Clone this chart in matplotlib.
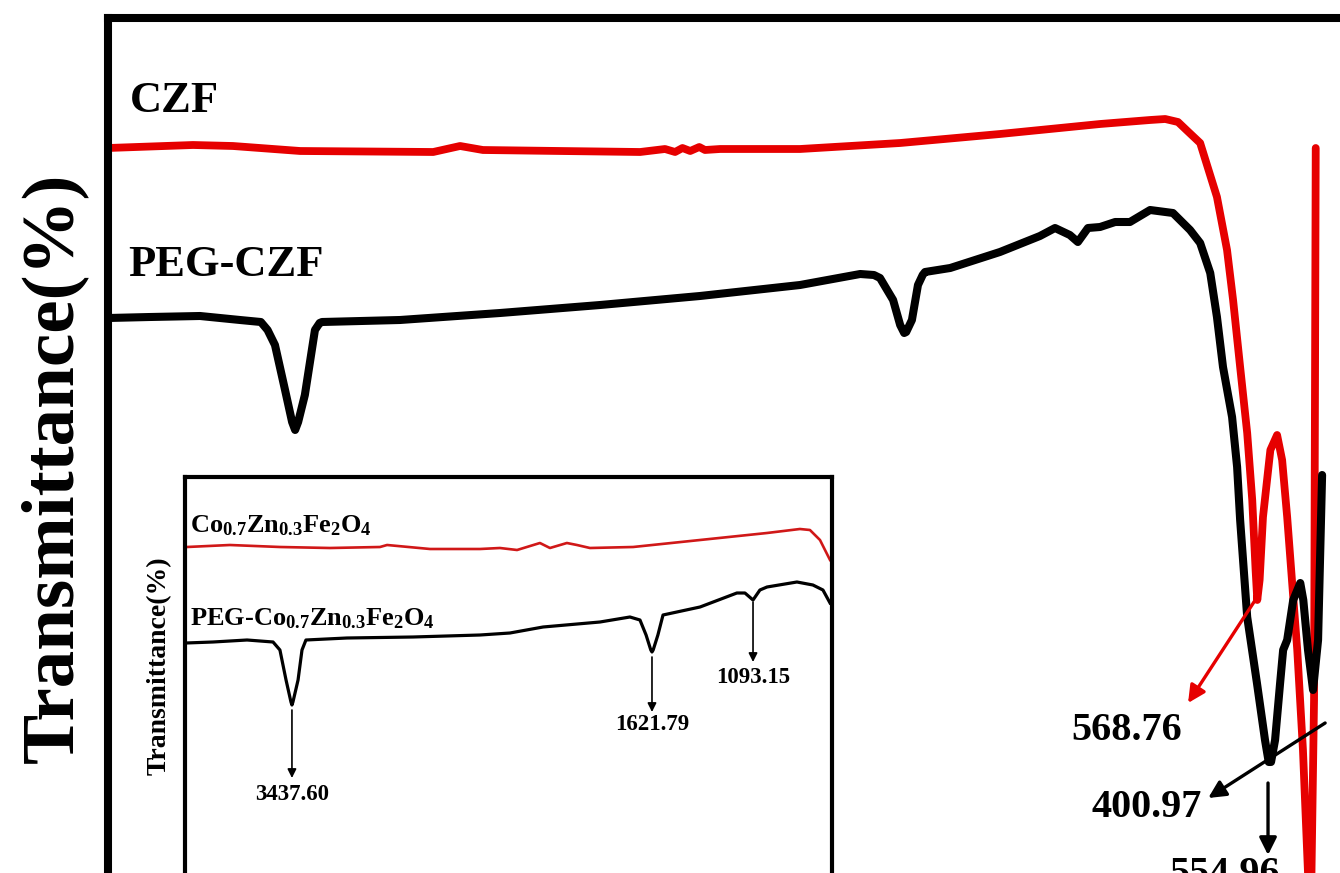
"""FTIR spectra of CZF and PEG-CZF with a zoomed inset."""

import matplotlib

matplotlib.use("Agg")
import matplotlib.pyplot as plt

plt.rcParams["font.family"] = ["Liberation Serif", "DejaVu Serif"]
plt.rcParams["font.weight"] = "bold"
plt.rcParams["mathtext.fontset"] = "custom"
plt.rcParams["mathtext.rm"] = "Liberation Serif:bold"
plt.rcParams["mathtext.bf"] = "Liberation Serif:bold"
plt.rcParams["mathtext.it"] = "Liberation Serif:bold:italic"

RED = "#e60000"

# main panel: wavenumber (cm-1) and transmittance (arb. units)
czf_wn = [4000, 3747, 3628, 3428, 3032, 2952, 2884, 2654, 2416, 2342, 2312, 2290,
          2267, 2240, 2223, 2178, 1940, 1642, 1345, 1047, 898, 853, 815, 790, 749,
          699, 669, 651, 630, 609, 594, 584, 579, 572, 562, 540, 520, 505, 490,
          460, 443, 428, 419, 410, 405]
czf_t = [75.2, 75.5, 75.4, 74.9, 74.8, 75.4, 75.0, 74.9, 74.8, 75.1, 74.8, 75.2,
         74.9, 75.3, 75.0, 75.1, 75.1, 75.7, 76.6, 77.6, 78.0, 78.1, 77.8, 77.0,
         75.7, 70.3, 65.0, 60.0, 53.3, 46.7, 40.0, 33.0, 30.0, 32.0, 38.3, 45.0,
         46.5, 44.0, 38.3, 25.0, 15.0, 2.7, -0.5, 20.0, 75.2]

peg_wn = [4000, 3875, 3726, 3607, 3545, 3525, 3503, 3473, 3452, 3443, 3434, 3414,
          3384, 3370, 3363, 3131, 2833, 2535, 2238, 1940, 1761, 1720, 1702, 1663,
          1642, 1630, 1624, 1607, 1589, 1575, 1568, 1493, 1345, 1226, 1181, 1137,
          1113, 1083, 1047, 1002, 958, 898, 830, 779, 749, 719, 699, 681, 654, 639,
          630, 609, 580, 556, 545, 538, 526, 511, 502, 490, 472, 451, 442, 428,
          413, 398, 386]
peg_t = [58.2, 58.3, 58.4, 58.0, 57.8, 57.0, 55.5, 51.0, 47.8, 47.0, 47.8, 50.5,
         57.0, 57.7, 57.8, 58.0, 58.7, 59.5, 60.4, 61.5, 62.6, 62.5, 62.2, 60.0,
         57.5, 56.7, 56.8, 58.0, 61.5, 62.5, 62.8, 63.2, 64.8, 66.4, 67.2, 66.5,
         65.8, 67.2, 67.3, 67.8, 67.8, 69.0, 68.7, 67.0, 65.7, 62.7, 58.3, 53.3,
         48.3, 43.3, 38.0, 28.3, 21.7, 16.0, 13.8, 13.8, 16.0, 21.7, 25.0, 26.0,
         30.0, 31.7, 30.0, 25.0, 21.0, 26.0, 42.5]

# inset panel
ins_czf_wn = [3990, 3772, 3518, 3264, 3010, 2974, 2756, 2502, 2401, 2314, 2198,
              2147, 2061, 2010, 1944, 1725, 1385, 1045, 878, 827, 776, 725]
ins_czf_t = [35.3, 35.5, 35.3, 35.2, 35.3, 35.5, 35.1, 35.1, 35.2, 35.0, 35.7,
             35.2, 35.7, 35.5, 35.2, 35.3, 36.0, 36.7, 37.1, 37.0, 36.0, 34.0]

ins_peg_wn = [3995, 3858, 3685, 3553, 3518, 3487, 3462, 3457, 3452, 3426, 3406,
              3386, 3178, 2842, 2502, 2350, 2182, 1893, 1741, 1690, 1659, 1635,
              1629, 1623, 1599, 1573, 1385, 1198, 1157, 1116, 1081, 1045, 893, 812,
              761, 725]
ins_peg_t = [25.7, 25.8, 26.0, 25.8, 25.0, 22.0, 19.8, 19.5, 19.8, 22.0, 25.0,
             26.0, 26.2, 26.3, 26.5, 26.7, 27.3, 27.8, 28.3, 28.0, 26.5, 25.0,
             24.8, 25.0, 26.5, 28.5, 29.3, 30.7, 30.7, 30.0, 31.0, 31.3, 31.8,
             31.5, 31.0, 29.7]

W, H = 1340, 873
fig = plt.figure(figsize=(W / 100, H / 100), dpi=100)


def px_box(left, top, right, bottom):
    return [left / W, 1 - bottom / H, (right - left) / W, (bottom - top) / H]


ax = fig.add_axes(px_box(108, 18, 1351, 900))
ax.plot(czf_wn, czf_t, color=RED, lw=5.6, solid_capstyle="round", solid_joinstyle="round")
ax.plot(peg_wn, peg_t, color="black", lw=5.8, solid_capstyle="round", solid_joinstyle="round")
ax.set_xlim(4000, 300)
ax.set_ylim(0, 88.2)
ax.set_xticks([])
ax.set_yticks([])
for s in ax.spines.values():
    s.set_linewidth(5.8)

ax.text(3935, 78.8, "CZF", fontsize=32, fontweight="bold")
ax.text(3941, 62.4, "PEG-CZF", fontsize=32, fontweight="bold")

arrow_main = dict(arrowstyle="-|>", mutation_scale=26, lw=2.4, shrinkA=0, shrinkB=0)
ax.annotate("", xy=(785, 19.7), xytext=(585, 30.0),
            arrowprops=dict(arrow_main, color=RED))
ax.annotate("", xy=(725, 10.2), xytext=(377, 17.7),
            arrowprops=dict(arrow_main, color="black"))
ax.annotate("", xy=(547, 4.5), xytext=(547, 11.7),
            arrowprops=dict(arrow_main, color="black"))
ax.text(967, 16.0, "568.76", fontsize=29, ha="center", va="baseline")
ax.text(907, 8.3, "400.97", fontsize=29, ha="center", va="baseline")
ax.text(675, 1.6, "554.96", fontsize=29, ha="center", va="baseline")

fig.text(54 / W, 1 - 468 / H, "Transmittance(%)", rotation=90, fontsize=54,
         fontweight="bold", ha="center", va="center")

# inset
ins = fig.add_axes(px_box(185, 477, 832, 900))
ins.plot(ins_czf_wn, ins_czf_t, color="#d01818", lw=1.9)
ins.plot(ins_peg_wn, ins_peg_t, color="black", lw=2.3)
ins.set_xlim(4000, 715)
ins.set_ylim(0, 42.3)
ins.set_xticks([])
ins.set_yticks([])
for s in ins.spines.values():
    s.set_linewidth(3.0)
ins.set_ylabel("Transmittance(%)", fontsize=20, fontweight="bold")
ins.yaxis.set_label_coords(-0.02, 0.555)

ins.text(3975, 36.8, r"$\mathrm{Co_{0.7}Zn_{0.3}Fe_{2}O_{4}}$", fontsize=19)
ins.text(3975, 27.5, r"PEG-$\mathrm{Co_{0.7}Zn_{0.3}Fe_{2}O_{4}}$", fontsize=19)

arrow_ins = dict(arrowstyle="-|>", mutation_scale=13, lw=1.2, color="black",
                 shrinkA=0, shrinkB=0)
for wn, t0, t1, lab, tb in [(3457, 19.0, 12.2, "3437.60", 10.0),
                            (1629, 24.3, 18.8, "1621.79", 17.0),
                            (1116, 29.8, 23.8, "1093.15", 21.7)]:
    ins.annotate("", xy=(wn, t1), xytext=(wn, t0), arrowprops=arrow_ins)
    ins.text(wn, tb, lab, fontsize=16.5, ha="center", va="baseline")

fig.savefig("out.png", dpi=100)
